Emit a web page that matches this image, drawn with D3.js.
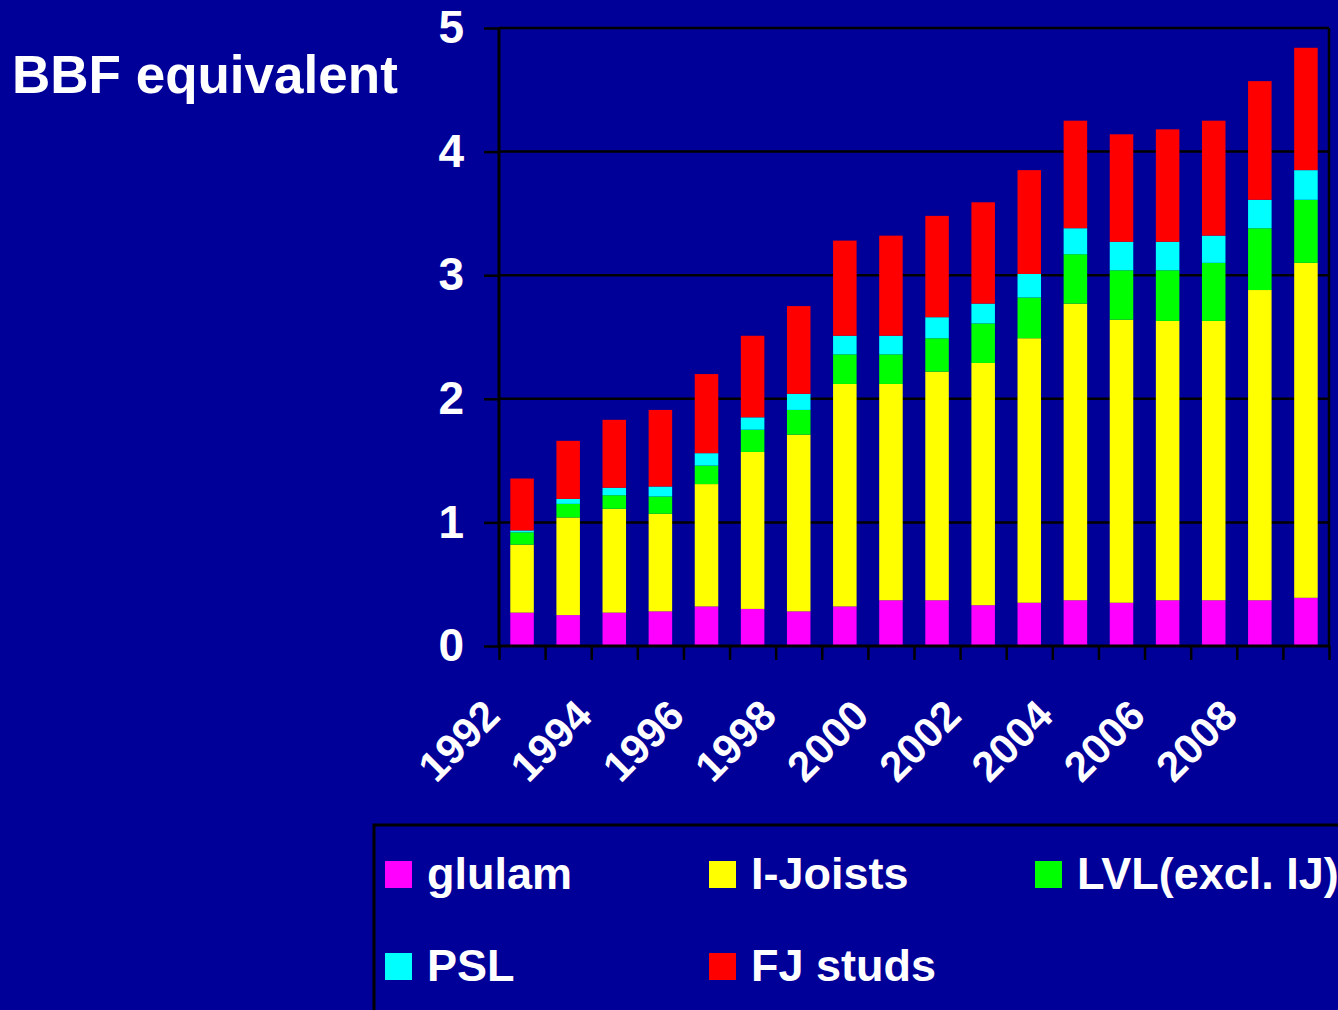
<!DOCTYPE html>
<html>
<head>
<meta charset="utf-8">
<script src="https://cdn.jsdelivr.net/npm/d3@7"></script>
<style>
  html, body { margin: 0; padding: 0; background: #000099; }
  svg { display: block; font-family: "Liberation Sans", Arial, sans-serif; font-weight: bold; }
</style>
</head>
<body>
<script>
// data (million BBF equivalent, stacked)
const years = ["1992","1993","1994","1995","1996","1997","1998","1999","2000",
               "2001","2002","2003","2004","2005","2006","2007","2008","2009"];
const glulam  = [0.27,0.25,0.27,0.28,0.32,0.30,0.28,0.32,0.37,0.37,0.33,0.35,0.37,0.35,0.37,0.37,0.37,0.39];
const iJoists = [0.55,0.79,0.84,0.79,0.99,1.27,1.43,1.80,1.75,1.85,1.96,2.14,2.40,2.29,2.26,2.26,2.51,2.71];
const lvl     = [0.10,0.11,0.11,0.14,0.15,0.18,0.20,0.24,0.24,0.27,0.32,0.33,0.40,0.40,0.41,0.47,0.50,0.51];
const psl     = [0.015,0.04,0.06,0.08,0.10,0.10,0.13,0.15,0.15,0.17,0.16,0.19,0.21,0.23,0.23,0.22,0.23,0.24];
const fjStuds = [0.42,0.47,0.55,0.62,0.64,0.66,0.71,0.77,0.81,0.82,0.82,0.84,0.87,0.87,0.91,0.93,0.96,0.99];
const seriesNames = ["glulam","I-Joists","LVL(excl. IJ)","PSL","FJ studs"];
const seriesColors = ["#ff00ff","#ffff00","#00ff00","#00ffff","#ff0000"];
const yTicks = [0,1,2,3,4,5];
const xLabels = ["1992","1994","1996","1998","2000","2002","2004","2006","2008"];

const width = 1338, height = 1010;
const plot = {left: 499, right: 1329, top: 28, bottom: 646};

const table = years.map((y, i) => ({
  year: y, glulam: glulam[i], "I-Joists": iJoists[i], "LVL(excl. IJ)": lvl[i],
  PSL: psl[i], "FJ studs": fjStuds[i]
}));

const svg = d3.select("body").append("svg")
  .attr("width", width)
  .attr("height", height);

svg.append("rect").attr("width", width).attr("height", height).attr("fill", "#000099");

// scales
const x = d3.scaleBand().domain(years).range([plot.left, plot.right])
  .paddingInner(0.49).paddingOuter(0.245);
const xIdx = d3.scaleLinear().domain([0, years.length]).range([plot.left, plot.right]);
const y = d3.scaleLinear().domain([0, 5]).range([plot.bottom, plot.top]);
const color = d3.scaleOrdinal().domain(seriesNames).range(seriesColors);

// gridlines
svg.append("g")
  .selectAll("line")
  .data(yTicks.filter(d => d > 0))
  .join("line")
  .attr("x1", plot.left).attr("x2", plot.right)
  .attr("y1", d => y(d)).attr("y2", d => y(d))
  .attr("stroke", "#000").attr("stroke-width", 2.5);

// right frame
svg.append("line")
  .attr("x1", plot.right).attr("x2", plot.right)
  .attr("y1", plot.top).attr("y2", plot.bottom)
  .attr("stroke", "#000").attr("stroke-width", 2.5);

// stacked bars
const stack = d3.stack().keys(seriesNames)(table);
svg.append("g")
  .selectAll("g")
  .data(stack)
  .join("g")
  .attr("fill", d => color(d.key))
  .selectAll("rect")
  .data(d => d)
  .join("rect")
  .attr("x", d => x(d.data.year))
  .attr("width", x.bandwidth())
  .attr("y", d => y(d[1]))
  .attr("height", d => y(d[0]) - y(d[1]));

// y axis
const yAxis = d3.axisLeft(y).tickValues(yTicks).tickSize(15).tickPadding(20).tickFormat(d3.format("d"));
svg.append("g")
  .attr("transform", `translate(${plot.left},0)`)
  .call(yAxis)
  .call(g => g.select(".domain").remove())
  .call(g => g.selectAll(".tick line").attr("stroke", "#000").attr("stroke-width", 2.5))
  .call(g => g.selectAll(".tick text")
    .attr("fill", "#fff")
    .attr("font-size", 46)
    .attr("font-family", "'Liberation Sans', Arial, sans-serif")
    .attr("font-weight", "bold"));

svg.append("line")
  .attr("x1", plot.left).attr("x2", plot.left)
  .attr("y1", plot.top).attr("y2", plot.bottom)
  .attr("stroke", "#000").attr("stroke-width", 3);

// x axis (ticks at category boundaries)
const xAxis = d3.axisBottom(xIdx).tickValues(d3.range(years.length + 1)).tickSize(14).tickFormat("");
svg.append("g")
  .attr("transform", `translate(0,${plot.bottom})`)
  .call(xAxis)
  .call(g => g.select(".domain").remove())
  .call(g => g.selectAll(".tick line").attr("stroke", "#000").attr("stroke-width", 2.5));

svg.append("line")
  .attr("x1", plot.left - 1).attr("x2", plot.right + 1)
  .attr("y1", plot.bottom).attr("y2", plot.bottom)
  .attr("stroke", "#000").attr("stroke-width", 3);

// x labels, rotated
svg.append("g")
  .selectAll("text")
  .data(xLabels)
  .join("text")
  .attr("transform", d => `translate(${x(d) + x.bandwidth() / 2 - 20},718) rotate(-45)`)
  .attr("text-anchor", "end")
  .attr("fill", "#fff")
  .attr("font-size", 42)
  .text(d => d);

// title
svg.append("text")
  .attr("x", 12)
  .attr("y", 93)
  .attr("fill", "#fff")
  .attr("font-size", 53)
  .text("BBF equivalent");

// legend
svg.append("rect")
  .attr("x", 374).attr("y", 825)
  .attr("width", 1000).attr("height", 250)
  .attr("fill", "none")
  .attr("stroke", "#000").attr("stroke-width", 3);

const legendCols = [385, 709, 1035];
const legendRows = [861, 953];
const legend = svg.append("g")
  .selectAll("g")
  .data(seriesNames)
  .join("g")
  .attr("transform", (d, i) => `translate(${legendCols[i % 3]},${legendRows[Math.floor(i / 3)]})`);

legend.append("rect")
  .attr("width", 27).attr("height", 27)
  .attr("fill", d => color(d));

legend.append("text")
  .attr("x", 42)
  .attr("y", 28)
  .attr("fill", "#fff")
  .attr("font-size", 45)
  .text(d => d);
</script>
</body>
</html>
